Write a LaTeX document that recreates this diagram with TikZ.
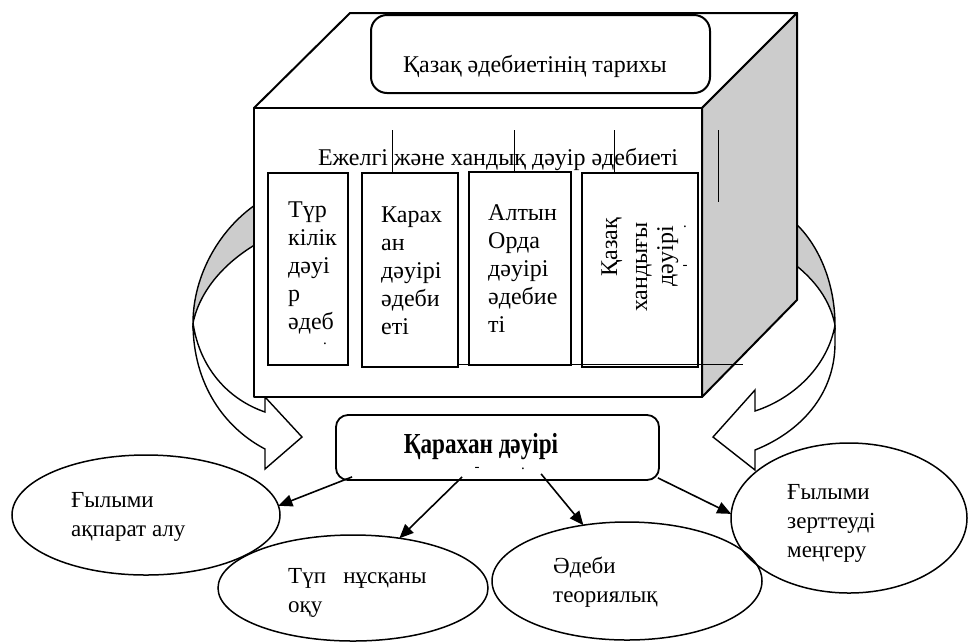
\documentclass[tikz,border=0pt]{standalone}
\usepackage{fontspec}
\setmainfont{Liberation Serif}
\usetikzlibrary{shapes.geometric,arrows.meta,calc}
\definecolor{shade}{RGB}{204,204,204}
\begin{document}
\begin{tikzpicture}[x=1pt,y=-1pt,
  thickline/.style={line width=2pt, line join=round},
  band/.style={line width=1.4pt, line join=miter},
  periodbox/.style={draw, line width=2.2pt, fill=white, inner sep=0pt, outer sep=0pt},
  fine/.style={line width=0.9pt},
  txt/.style={font=\fontsize{24}{28}\selectfont, inner sep=0pt},
  fragtxt/.style={font=\fontsize{15}{16}\selectfont, inner sep=0pt},
  boxtxt/.style={txt, align=left, anchor=base west},
  ovaltxt/.style={font=\fontsize{23}{29}\selectfont, inner sep=0pt, align=left, anchor=base west},
  oval/.style={draw, ellipse, line width=1.5pt, inner sep=0pt, outer sep=0pt},
  link/.style={line width=1.6pt, -{Triangle[length=14pt,width=12pt]}},
]
\useasboundingbox (0,0) rectangle (968,641);

% left curved arrow
\draw[band, fill=shade] (258,203) .. controls (220,228) and (193,275) .. (193,323)
   .. controls (200,290) and (225,262) .. (258,243) -- cycle;
\draw[band, fill=white] (193,323) .. controls (193,385) and (225,428) .. (265,449)
   -- (265,469) -- (302,437) -- (265,397) -- (265,412)
   .. controls (230,400) and (200,370) .. (193,323) -- cycle;
% right curved arrow
\draw[band, fill=shade] (793,221) .. controls (820,245) and (835,285) .. (835,325)
   .. controls (830,300) and (815,280) .. (793,263) -- cycle;
\draw[band, fill=white] (835,325) -- (835,343) .. controls (835,395) and (800,432) .. (755,450)
   -- (755,470) -- (713,437) -- (755,390) -- (755,411)
   .. controls (795,398) and (828,365) .. (835,325) -- cycle;

% cube
\draw[thickline, fill=white] (254,108) -- (350,13) -- (797,13) -- (702,108) -- cycle;
\draw[thickline, fill=shade] (702,108) -- (797,13) -- (797,300) -- (702,397) -- cycle;
\draw[thickline, fill=white] (254,108) rectangle (702,397);

% title
\node[draw, line width=2pt, rounded corners=16pt, minimum width=339pt, minimum height=78pt,
      fill=white, inner sep=0pt] (title) at (540.5,54) {};
\node[txt, anchor=base] (titletext) at (535,72) {Қазақ әдебиетінің тарихы};

\node[txt, anchor=base] (era) at (498,165) {Ежелгі және хандық дәуір әдебиеті};

% period boxes
\node[periodbox, minimum width=80pt, minimum height=192pt] (b1) at (308,269) {};
\node[periodbox, minimum width=96pt, minimum height=194pt] (b2) at (410,270) {};
\node[periodbox, minimum width=102pt, minimum height=193pt] (b3) at (520,268.5) {};
\node[periodbox, minimum width=116pt, minimum height=194pt] (b4) at (640,270) {};

\draw[fine] (392,130) -- (392,172);
\draw[fine] (514,130) -- (514,171);
\draw[fine] (614,130) -- (614,172);
\draw[fine] (718,130) -- (718,202);
\draw[fine] (458,364) -- (743,364);

% multi-line nodes: base anchor = baseline of last line
\node[boxtxt] (t1) at (288,329) {Түр\\кілік\\дәуі\\р\\әдеб};
\node[fragtxt] (t1dot) at (325,344) {.};
\node[boxtxt] (t2) at (381,334) {Карах\\ан\\дәуірі\\әдеби\\еті};
\node[boxtxt] (t3) at (488,332) {Алтын\\Орда\\дәуірі\\әдебие\\ті};
\node[txt, rotate=90, anchor=base east] (t4a) at (617,218) {Қазақ};
\node[txt, rotate=90, anchor=base east] (t4b) at (647,222) {хандығы};
\node[txt, rotate=90, anchor=base east] (t4c) at (673,226) {дәуірі};
\node[fragtxt] (t4dot) at (685,227) {.};
\node[fragtxt] (t4dash) at (685,267) {-};

% Karakhan box
\node[draw, line width=1.8pt, rounded corners=12pt, minimum width=323pt, minimum height=65pt,
      fill=white, inner sep=0pt] (kb) at (497.5,447.5) {};
\node[anchor=base, inner sep=0pt] (kbt) at (481,453)
   {\scalebox{0.8}[1]{\fontsize{29}{30}\selectfont\bfseries Қарахан дәуірі}};
\node[fragtxt] (kbdash) at (477,469) {-};
\node[fragtxt] (kbdot) at (523,469) {.};

% ellipses
\node[oval, minimum width=268pt, minimum height=120pt] (e1) at (146,515) {};
\node[oval, minimum width=270pt, minimum height=106pt] (e2) at (353,588) {};
\node[oval, minimum width=270pt, minimum height=118pt] (e3) at (627,581) {};
\node[oval, minimum width=236pt, minimum height=150pt] (e4) at (849,518) {};

\node[ovaltxt] (e1t) at (71,536) {Ғылыми\\ақпарат алу};
\node[ovaltxt] (e2t) at (288,612) {Түп~~~нұсқаны\\оқу};
\node[ovaltxt] (e3t) at (553,602) {Әдеби\\теориялық};
\node[ovaltxt] (e4t) at (787,557) {Ғылыми\\зерттеуді\\меңгеру};

% connectors
\draw[link] ($(kb.south west)+(17,-4)$) -- (e1.4);
\draw[link] ($(kb.south west)+(127,-4)$) -- (e2.47);
\draw[link] ($(kb.south west)+(206,-7)$) -- (e3.128);
\draw[link] ($(kb.south east)+(-2,-3)$) -- (e4.178);
\end{tikzpicture}
\end{document}
